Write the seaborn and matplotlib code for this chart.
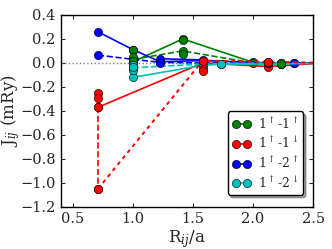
import matplotlib
matplotlib.use("Agg")
import matplotlib.pyplot as plt
import seaborn as sns

sns.set_style("ticks")
plt.rcParams['font.family'] = ['DejaVu Serif']
plt.rcParams['mathtext.fontset'] = 'dejavuserif'

# shell distances R_ij/a
r1, r2, r3, r4, r5, r6, r7, r8, r9, r10 = 0.707, 1.0, 1.225, 1.414, 1.581, 1.732, 2.0, 2.121, 2.236, 2.345

# 1up-1up (green)
uu_solid_x = [r2, r4, r7, r9, 2.6]
uu_solid_y = [0.01, 0.20, 0.005, -0.005, 0.0]
uu_dash_x = [r2, r4, r7, r9, 2.6]
uu_dash_y = [0.03, 0.10, 0.0, 0.0, 0.0]
uu_pts_x = [r2, r2, r2, r4, r4, r9]
uu_pts_y = [0.11, 0.05, 0.02, 0.19, 0.075, -0.01]

# 1up-1down (red)
ud_solid_x = [r1, r5, r8, 2.6]
ud_solid_y = [-0.37, 0.0, -0.03, 0.0]
ud_dash_x = [r1, r1]
ud_dash_y = [-0.37, -1.05]
ud_dot_x = [r1, r5, r8, 2.6]
ud_dot_y = [-1.05, 0.02, 0.01, 0.0]
ud_pts_x = [r1, r1, r5, r5, r5, r8]
ud_pts_y = [-0.25, -0.29, 0.02, -0.05, -0.07, 0.01]

# 1up-2up (blue)
bu_solid_x = [r1, r2, r3, r5, r8, r10, 2.6]
bu_solid_y = [0.26, 0.11, 0.01, 0.02, 0.0, 0.0, 0.0]
bu_solid2_x = [r3, r5]
bu_solid2_y = [0.035, 0.025]
bu_dash_x = [r1, r2, r3, r5, r8, r10, 2.6]
bu_dash_y = [0.065, 0.03, 0.005, 0.0, 0.0, 0.0, 0.0]
bu_pts_x = [r3]
bu_pts_y = [0.0]

# 1up-2down (cyan)
bd_solid_x = [r2, r5, r6, r9, 2.6]
bd_solid_y = [-0.12, -0.02, -0.01, -0.01, 0.0]
bd_dash_x = [r2, r5, r6, r9, 2.6]
bd_dash_y = [-0.04, -0.01, -0.005, 0.0, 0.0]
bd_pts_x = [r2, r2, r2]
bd_pts_y = [-0.02, -0.06, -0.03]

xticks = [0.5, 1.0, 1.5, 2.0, 2.5]
yticks = [-1.2, -1.0, -0.8, -0.6, -0.4, -0.2, 0.0, 0.2, 0.4]

fig = plt.figure(figsize=(3.32, 2.49), dpi=100)
ax = fig.add_axes([0.184, 0.169, 0.759, 0.771])

ax.axhline(0, color='gray', linestyle=':', linewidth=1, zorder=1)

mk = dict(marker='o', markersize=6, markeredgecolor='k', markeredgewidth=0.4)

def draw(x, y, color, ls, label=None, lw=1.2):
    sns.lineplot(x=x, y=y, ax=ax, color=color, linestyle=ls, linewidth=lw,
                 estimator=None, sort=False, label=label, legend=False, **mk)

series = [
    ('g', uu_solid_x, uu_solid_y, uu_dash_x, uu_dash_y, uu_pts_x, uu_pts_y, r'$1^{\uparrow}$-$1^{\uparrow}$'),
    ('r', ud_solid_x, ud_solid_y, ud_dash_x, ud_dash_y, ud_pts_x, ud_pts_y, r'$1^{\uparrow}$-$1^{\downarrow}$'),
    ('b', bu_solid_x, bu_solid_y, bu_dash_x, bu_dash_y, bu_pts_x, bu_pts_y, r'$1^{\uparrow}$-$2^{\uparrow}$'),
    ('c', bd_solid_x, bd_solid_y, bd_dash_x, bd_dash_y, bd_pts_x, bd_pts_y, r'$1^{\uparrow}$-$2^{\downarrow}$'),
]

handles = []
for color, sx, sy, dx, dy, px, py, lab in series:
    draw(sx, sy, color, '-')
    handles.append(ax.lines[-1])
    draw(dx, dy, color, '--')
    sns.scatterplot(x=px, y=py, ax=ax, color=color, s=36, edgecolor='k',
                    linewidth=0.4, zorder=3, legend=False)

draw(ud_dot_x, ud_dot_y, 'r', (0, (2, 2)), lw=1.4)
draw(bu_solid2_x, bu_solid2_y, 'b', '-')

ax.set_xlim(0.4, 2.5)
ax.set_ylim(-1.2, 0.4)
ax.set_xticks(xticks)
ax.set_yticks(yticks)
ax.set_xticklabels([f"{t:.1f}" for t in xticks])
ax.set_yticklabels([f"{t:.1f}".replace('-', '\u2212') for t in yticks])
ax.tick_params(direction='in', top=True, right=True, labelsize=10.5, length=3, pad=4)
for s in ax.spines.values():
    s.set_color('k')
    s.set_linewidth(1)

ax.set_xlabel(r'R$_{ij}$/a', fontsize=12, labelpad=1)
ax.set_ylabel(r'J$_{ij}$ (mRy)', fontsize=12)
ax.yaxis.set_label_coords(-0.155, 0.5)

leg = ax.legend(handles, [s[-1] for s in series], loc='lower right', fontsize=9,
                numpoints=2, handlelength=1.5, frameon=True, fancybox=True,
                shadow=True, borderpad=0.35, labelspacing=0.3, handletextpad=0.6,
                bbox_to_anchor=(0.985, 0.03))
leg.get_frame().set_edgecolor('k')
leg.get_frame().set_facecolor('white')

fig.savefig('out.png', dpi=100)
